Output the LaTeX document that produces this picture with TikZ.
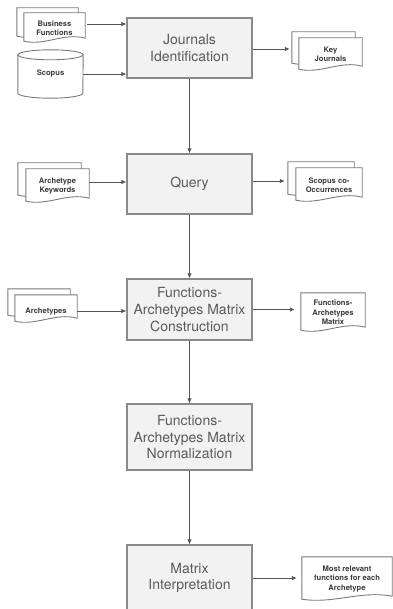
\documentclass[tikz,border=0pt]{standalone}
\usepackage{fontspec}
\setmainfont{TeX Gyre Heros}
\usetikzlibrary{arrows.meta,backgrounds,calc}
\definecolor{boxfill}{HTML}{F2F2F2}
\definecolor{boxline}{HTML}{8A8A8A}
\definecolor{boxtext}{HTML}{5A5A5A}
\definecolor{arrowc}{HTML}{555555}
\definecolor{docline}{HTML}{7A7A7A}
\definecolor{doctext}{HTML}{3A3A3A}
\tikzset{
 procbox/.style={draw=boxline, fill=boxfill, line width=1.1pt, minimum width=125pt, align=center, text=boxtext, font=\fontsize{14}{16.6}\selectfont, inner sep=0pt},
 docnode/.style={align=center, text=doctext, font=\bfseries\fontsize{7.6}{9.4}\selectfont, inner sep=0pt},
 docdraw/.style={draw=docline, fill=white, line width=0.9pt},
 arr/.style={draw=arrowc, line width=0.9pt, -{Latex[length=5pt,width=4.5pt]}},
}
% document sheet drawn from the extents of node #1, shifted by (#2,#3)
\newcommand\docshape[3]{%
 \path[docdraw] let \p1=(#1.north west), \p2=(#1.south east) in
 ({\x1+(#2)},{\y1+(#3)}) -- ({\x2+(#2)},{\y1+(#3)}) -- ({\x2+(#2)},{\y2+(#3)+5pt})
 .. controls ({\x2+(#2)-0.35*(\x2-\x1)},{\y2+(#3)+11pt}) and ({\x1+(#2)+0.35*(\x2-\x1)},{\y2+(#3)-3pt})
 .. ({\x1+(#2)},{\y2+(#3)+2pt}) -- cycle;}
\begin{document}
\begin{tikzpicture}[x=1pt,y=-1pt]
\useasboundingbox (0,0) rectangle (392,609);
% process boxes
\node[procbox, minimum height=60pt] (j) at (189.5,48) {Journals\\Identification};
\node[procbox, minimum height=60pt] (q) at (189.5,184) {Query};
\node[procbox, minimum height=61pt] (fm) at (189.5,309.5) {Functions-\\Archetypes Matrix\\Construction};
\node[procbox, minimum height=66pt] (fn) at (189.5,437) {Functions-\\Archetypes Matrix\\Normalization};
\node[procbox, minimum height=66pt] (mi) at (189.5,578) {Matrix\\Interpretation};
% documents
\node[docnode, minimum width=61pt, minimum height=30pt] (bf) at (54.5,28) {Business\\Functions};
\node[docnode, minimum width=63pt, minimum height=33pt] (kj) at (330.5,54.5) {Key\\Journals};
\node[docnode, minimum width=63pt, minimum height=34pt] (ak) at (57.5,186) {Archetype\\Keywords};
\node[docnode, minimum width=66pt, minimum height=34pt] (sco) at (329,185) {Scopus co-\\Occurrences};
\node[docnode, minimum width=62pt, minimum height=28pt, text depth=0pt] (ar) at (46,309) {\raisebox{-2.5pt}{Archetypes}};
\node[docnode, minimum width=64pt, minimum height=39pt] (fam) at (333,312.5) {Functions-\\Archetypes\\Matrix};
\node[docnode, minimum width=90pt, minimum height=44pt] (mr) at (347,579) {Most relevant\\functions for each\\Archetype};
\node[docnode, minimum width=65pt, minimum height=48pt] (sc) at (50.5,74) {\raisebox{-4pt}{Scopus}};
\begin{pgfonlayer}{background}
 \fill[white] (0,0) rectangle (392,609);
 \docshape{bf}{-7pt}{5pt}\docshape{bf}{0pt}{0pt}
 \docshape{kj}{-7pt}{6pt}\docshape{kj}{0pt}{0pt}
 \docshape{ak}{-8pt}{6pt}\docshape{ak}{0pt}{0pt}
 \docshape{sco}{-8pt}{6pt}\docshape{sco}{0pt}{0pt}
 \docshape{ar}{-7pt}{6pt}\docshape{ar}{0pt}{0pt}
 \docshape{fam}{0pt}{0pt}
 \docshape{mr}{0pt}{0pt}
 % cylinder
 \path[docdraw] let \p1=(sc.north west), \p2=(sc.south east) in
   (\x1,\y1-5pt) -- (\x1,\y2+5pt) arc[start angle=180, end angle=360, x radius=32.5pt, y radius=5pt]
   -- (\x2,\y1-5pt) arc[start angle=0, end angle=180, x radius=32.5pt, y radius=5pt] -- cycle;
 \path[docdraw, fill=none] let \p1=(sc.north west) in
   (\x1,\y1-5pt) arc[start angle=180, end angle=360, x radius=32.5pt, y radius=5pt];
\end{pgfonlayer}
% connectors
\draw[arr] ([xshift=2pt,yshift=4pt]bf.east) -- ([yshift=4pt]bf.east -| j.west);
\draw[arr] (sc.east) -- (sc.east -| j.west);
\draw[arr] ([yshift=-1pt]j.east) -- ([xshift=-9pt,yshift=-1pt]j.east -| kj.west);
\draw[arr] ([yshift=4pt]ak.east) -- ([yshift=4pt]ak.east -| q.west);
\draw[arr] ([yshift=3pt]q.east) -- ([xshift=-11pt,yshift=3pt]q.east -| sco.west);
\draw[arr] ([yshift=-2pt]ar.east) -- ([yshift=-2pt]ar.east -| fm.west);
\draw[arr] (fm.east) -- ([xshift=-6pt]fm.east -| fam.west);
\draw[arr] (mi.east) -- ([xshift=-5pt]mi.east -| mr.west);
\draw[arr] (j) -- (q);
\draw[arr] (q) -- (fm);
\draw[arr] (fm) -- (fn);
\draw[arr] (fn) -- (mi);
\end{tikzpicture}
\end{document}
